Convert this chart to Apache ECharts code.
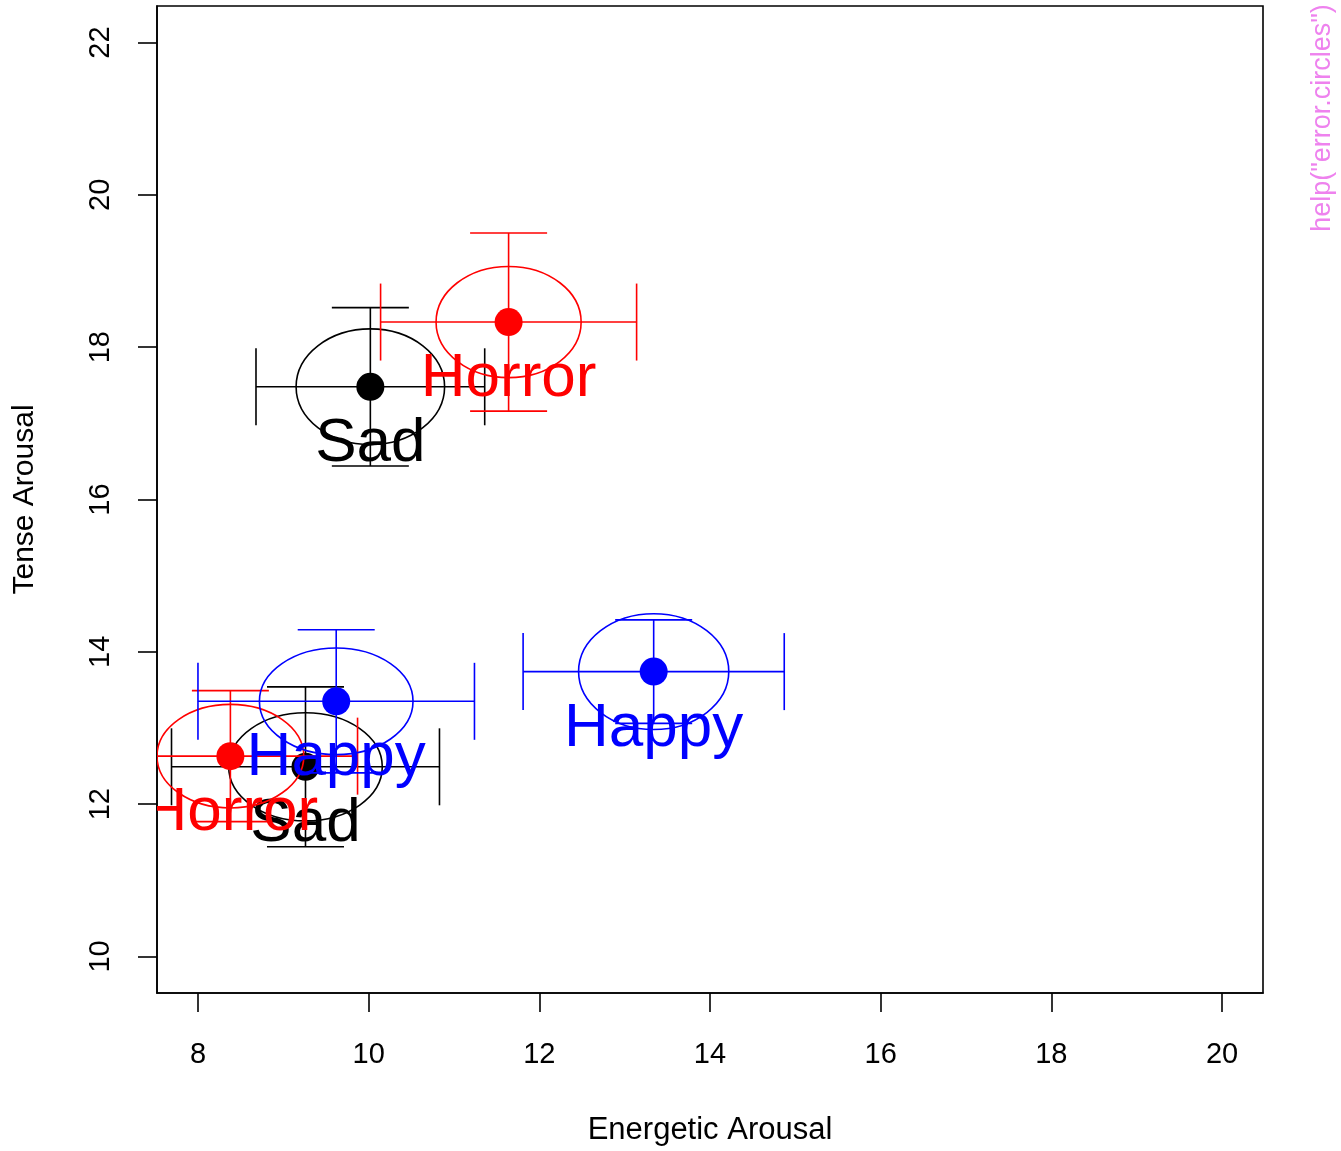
<!DOCTYPE html>
<html>
<head>
<meta charset="utf-8">
<script src="https://cdn.jsdelivr.net/npm/echarts@6/dist/echarts.min.js"></script>
<style>
  html, body { margin: 0; padding: 0; background: #fff; }
  #chart { width: 1341px; height: 1151px; }
</style>
</head>
<body>
<div id="chart"></div>
<script>
// film groups, lower (pre) cluster first then upper (post) cluster
const films = ['Sad', 'Horror', 'Happy', 'Sad', 'Horror', 'Happy']
const energetic = [9.26, 8.38, 9.62, 10.02, 11.64, 13.34]
const tense = [12.49, 12.63, 13.35, 17.48, 18.33, 13.74]
// half lengths of the error crosses
const energeticErr = [1.57, 1.49, 1.62, 1.34, 1.50, 1.53]
const tenseErr = [1.05, 0.86, 0.94, 1.04, 1.17, 0.68]
// ellipse radii
const ellipseX = [0.90, 0.86, 0.90, 0.87, 0.85, 0.88]
const ellipseY = [0.71, 0.68, 0.70, 0.76, 0.73, 0.76]

const xTicks = [8, 10, 12, 14, 16, 18, 20]
const yTicks = [10, 12, 14, 16, 18, 20, 22]

const filmColor = { Sad: '#000000', Horror: '#ff0000', Happy: '#0000ff' }
const font = '"Liberation Sans", Arial, Helvetica, sans-serif'

const data = films.map((f, i) => [energetic[i], tense[i], energeticErr[i], tenseErr[i], ellipseX[i], ellipseY[i], i])

const renderGroup = (params, api) => {
    const x = api.value(0), y = api.value(1)
    const ex = api.value(2), ey = api.value(3)
    const rx = api.value(4), ry = api.value(5)
    const film = films[api.value(6)]
    const col = filmColor[film]
    const c = api.coord([x, y])
    const left = api.coord([x - ex, y])
    const right = api.coord([x + ex, y])
    const top = api.coord([x, y + ey])
    const bottom = api.coord([x, y - ey])
    const size = api.size([rx, ry])
    const cap = 38.5
    const ls = { stroke: col, lineWidth: 1.6 }
    const ln = (x1, y1, x2, y2) => ({ type: 'line', shape: { x1, y1, x2, y2 }, style: ls })
    return {
        type: 'group',
        children: [
            { type: 'ellipse', shape: { cx: c[0], cy: c[1], rx: size[0], ry: size[1] }, style: { fill: null, stroke: col, lineWidth: 1.6 } },
            ln(left[0], c[1], right[0], c[1]),
            ln(left[0], c[1] - cap, left[0], c[1] + cap),
            ln(right[0], c[1] - cap, right[0], c[1] + cap),
            ln(c[0], top[1], c[0], bottom[1]),
            ln(c[0] - cap, top[1], c[0] + cap, top[1]),
            ln(c[0] - cap, bottom[1], c[0] + cap, bottom[1]),
            { type: 'circle', shape: { cx: c[0], cy: c[1], r: 14 }, style: { fill: col } },
            {
                type: 'text', x: c[0], y: c[1] + 57,
                style: { text: film, fill: col, font: '62px ' + font, align: 'center', verticalAlign: 'middle' }
            }
        ]
    }
}

const chart = echarts.init(document.getElementById('chart'))
chart.setOption({
    animation: false,
    backgroundColor: '#ffffff',
    grid: { left: 157, right: 78, top: 6, bottom: 155, show: true, borderColor: '#000', borderWidth: 1.6 },
    xAxis: {
        type: 'value', min: 7.52, max: 20.48,
        name: 'Energetic Arousal', nameLocation: 'middle', nameGap: 122,
        nameTextStyle: { fontSize: 31, color: '#000', fontFamily: font },
        splitLine: { show: false },
        axisLine: { show: true, lineStyle: { color: '#000', width: 1.6 } },
        axisTick: { show: true, customValues: xTicks, length: 19, lineStyle: { color: '#000', width: 1.6 } },
        axisLabel: { customValues: xTicks, fontSize: 29, color: '#000', fontFamily: font, margin: 47 }
    },
    yAxis: {
        type: 'value', min: 9.52, max: 22.48,
        name: 'Tense Arousal', nameLocation: 'middle', nameGap: 117, nameRotate: 90,
        nameTextStyle: { fontSize: 30, color: '#000', fontFamily: font },
        splitLine: { show: false },
        axisLine: { show: true, lineStyle: { color: '#000', width: 1.6 } },
        axisTick: { show: true, customValues: yTicks, length: 19, lineStyle: { color: '#000', width: 1.6 } },
        axisLabel: { customValues: yTicks, rotate: 90, fontSize: 29, color: '#000', fontFamily: font, margin: 42 }
    },
    graphic: [{
        type: 'text', x: 1323, y: 118, rotation: Math.PI / 2,
        style: { text: 'help("error.circles")', fill: '#ee82ee', font: '27px ' + font, align: 'center', verticalAlign: 'middle' }
    }],
    series: [{
        type: 'custom',
        clip: true,
        renderItem: renderGroup,
        data: data
    }]
})
</script>
</body>
</html>
